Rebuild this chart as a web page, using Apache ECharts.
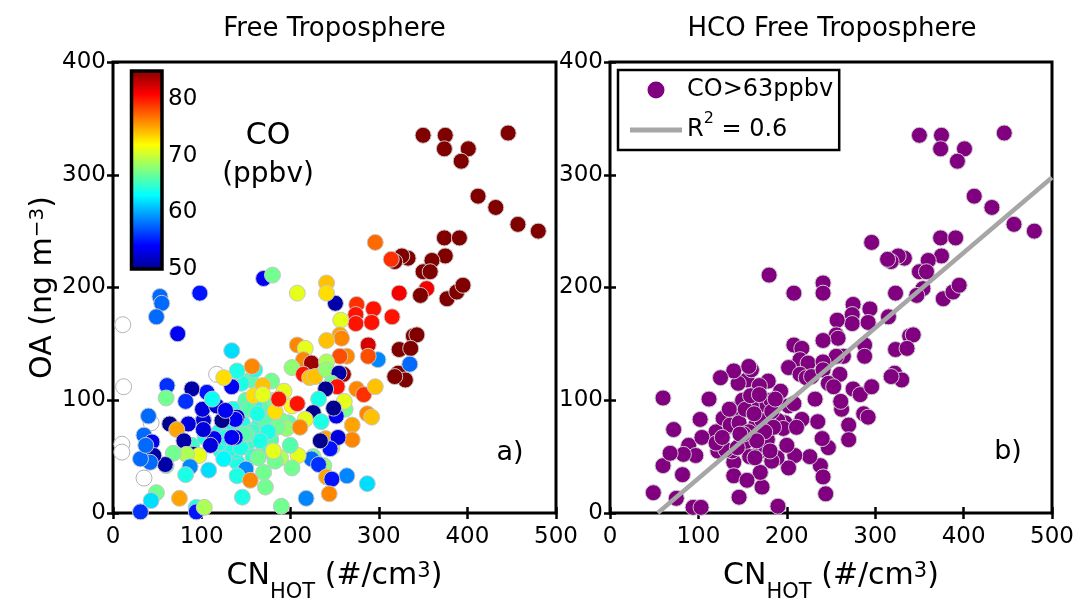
<!DOCTYPE html>
<html>
<head>
<meta charset="utf-8">
<script src="https://cdn.jsdelivr.net/npm/echarts@6/dist/echarts.min.js"></script>
<style>
html,body{margin:0;padding:0;background:#fff;}
#chart{width:1080px;height:608px;}
</style>
</head>
<body>
<div id="chart"></div>
<script>
// ---- Data ----
// CN_HOT (#/cm3), OA (ng m-3), CO (ppbv)
const cnHot = [247,238,226,170,140,198,130,142,152,165,168,175,182,190,196,138,158,120,
60,102,89,128,136,262,122,104,146,157,131,120,160,172,178,150,135,155,125,153,163,185,175,166,151,144,147,127,145,140,160,134,
350,375,446,374,401,393,412,432,457,480,374,391,375,360,350,358,333,326,318,314,296,323,354,347,377,388,395,315,294,339,343,323,336,322,330,318,335,299,
275,274,274,292,288,288,264,256,257,256,258,251,241,241,208,170,180,98,73,53,55,49,
241,208,217,215,224,241,202,215,222,228,241,260,255,247,253,240,232,275,283,296,261,252,249,226,235,217,211,270,287,292,270,240,254,245,234,
224,232,209,202,189,183,200,264,287,241,247,244,218,190,172,170,164,181,193,183,202,208,187,179,169,159,169,157,
134,125,138,140,138,123,134,114,110,108,102,102,101,106,117,127,112,89,82,61,60,85,64,72,80,91,97,83,68,59,87,82,75,49,43,31,94,94,103,
40,35,44,46,42,31,37,150,140,146,155];
const oaVal = [58,42,50,55,45,80,75,92,62,78,95,60,100,82,75,55,50,72,
42,83,60,84,78,92,55,67,80,72,56,62,95,82,65,100,92,118,48,92,88,76,72,64,70,58,70,67,115,126,127,144,
335,335,337,323,323,312,281,271,256,250,244,244,228,224,214,214,226,228,223,225,240,195,199,193,190,196,202,174,181,157,158,145,146,124,118,121,132,136,
185,176,168,169,149,139,139,139,171,158,155,186,204,195,195,208,211,195,159,192,186,174,
153,149,146,136,133,134,129,123,120,121,127,123,124,115,112,110,101,110,105,112,99,86,93,89,81,83,76,78,88,85,65,66,67,57,64,
48,43,51,40,49,46,60,33,26,32,30,17,13,6,23,36,49,55,108,90,95,97,101,117,113,104,105,130,
112,120,67,85,83,82,67,66,60,38,82,74,92,107,95,91,101,110,99,113,102,79,79,74,64,52,51,52,53,43,41,34,13,18,11,1,5,1,5,
86,69,63,51,45,48,60,39,33,14,29];
const coVal = [70,68,67,66,64,66,64,64,65,65,66,65,67,67,68,64,65,64,
66,65,65,64,64,67,64,64,64,65,64,64,64,66,66,66,64,66,63,66,64,67,64,64,66,64,66,64,64,64,64,62,
85,85,85,85,85,85,85,85,85,85,85,85,85,85,85,85,85,85,85,79,77,81,81,85,85,85,85,80,80,85,85,85,85,85,85,85,58,59,
79,80,80,80,82,78,76,78,71,75,76,51,74,73,71,54,67,55,54,58,58,58,
74,76,71,76,84,69,68,80,74,74,68,84,51,67,80,50,64,76,79,74,71,54,50,50,64,71,76,75,76,74,76,75,53,55,50,
58,56,71,67,69,67,66,59,62,75,55,76,59,67,67,67,67,71,71,73,72,80,80,67,74,73,71,76,
54,73,54,53,54,50,54,54,53,62,53,53,53,55,53,54,63.5,51,56,56,67,53,50,75,51,50,71,69,67,51,59,64,75,67,62,56,64,55,69,
58,58,54,51,58,58,58,59,64,64,76];
// points without a CO value (drawn hollow)
const hollowX = [11,12,10,10,35,43,117];
const hollowY = [167,112,61,54,31,80,123];

const coThreshold = 63;
const fitLine = [[54,0],[500,297.5]];
const xTicks = {min:0, max:500, interval:100};
const yTicks = {min:0, max:400, interval:100};
const coRange = {min:50, max:85, interval:10};
const jet = ['#00008F','#0000FF','#0080FF','#00FFFF','#80FF80','#FFFF00','#FF8000','#FF0000','#800000'];

// ---- Build series data ----
const allPts = cnHot.map((x,i)=>[x, oaVal[i], coVal[i]]);
const hollowPts = hollowX.map((x,i)=>[x, hollowY[i]]);
const hcoPts = allPts.filter(p => p[2] > coThreshold).map(p => [p[0], p[1]]);

const FONT = 'DejaVu Sans';
const chart = echarts.init(document.getElementById('chart'), null, {renderer:'canvas'});

function xAx(grid, pos, labels, name){
  return {
    type:'value', gridIndex:grid, position:pos, min:xTicks.min, max:xTicks.max, interval:xTicks.interval,
    axisLine:{show:false}, splitLine:{show:false},
    axisTick:{show:true, inside:true, length:6, lineStyle:{color:'#000', width:2.5}},
    axisLabel:{show:labels, fontSize:23, fontFamily:FONT, color:'#000', margin:13},
    name: name || '', nameLocation:'middle', nameGap:48,
    nameTextStyle:{fontFamily:FONT, color:'#000', rich:{
      m:{fontSize:30, lineHeight:30, verticalAlign:'top', fontFamily:FONT, color:'#000'},
      sub:{fontSize:21, lineHeight:42, verticalAlign:'bottom', fontFamily:FONT, color:'#000'},
      sup:{fontSize:21, lineHeight:19, verticalAlign:'top', fontFamily:FONT, color:'#000'}
    }}
  };
}
function yAx(grid, pos, labels, name){
  return {
    type:'value', gridIndex:grid, position:pos, min:yTicks.min, max:yTicks.max, interval:yTicks.interval,
    axisLine:{show:false}, splitLine:{show:false},
    axisTick:{show:true, inside:true, length:6, lineStyle:{color:'#000', width:2.5}},
    axisLabel:{show:labels, fontSize:23, fontFamily:FONT, color:'#000', margin:7},
    name: name || '', nameLocation:'middle', nameGap:55, nameRotate:90,
    nameTextStyle:{fontFamily:FONT, color:'#000', rich:{
      m:{fontSize:30, lineHeight:30, verticalAlign:'top', fontFamily:FONT, color:'#000'},
      sup:{fontSize:20, lineHeight:16, verticalAlign:'top', fontFamily:FONT, color:'#000'}
    }}
  };
}
const xName = '{m|CN}{sub|HOT}{m| (#/cm}{sup|3}{m|)}';
const yName = '{m|OA (ng m}{sup|\u22123}{m|)}';

const gradient = new echarts.graphic.LinearGradient(0,1,0,0, jet.map((c,i)=>({offset:i/(jet.length-1), color:c})));

const option = {
  animation:false,
  backgroundColor:'#fff',
  textStyle:{fontFamily:FONT},
  grid:[
    {left:113, top:62, width:443, height:454, show:true, borderColor:'#000', borderWidth:3, backgroundColor:'rgba(0,0,0,0)'},
    {left:610, top:62, width:442, height:454, show:true, borderColor:'#000', borderWidth:3, backgroundColor:'rgba(0,0,0,0)'},
    {left:131.5, top:71, width:30.5, height:198, show:true, borderColor:'#000', borderWidth:3.5, backgroundColor:gradient}
  ],
  xAxis:[
    xAx(0,'bottom',true,xName), xAx(0,'top',false),
    xAx(1,'bottom',true,xName), xAx(1,'top',false),
    {type:'value', gridIndex:2, show:false, min:0, max:1}
  ],
  yAxis:[
    yAx(0,'left',true,yName), yAx(0,'right',false),
    yAx(1,'left',true), yAx(1,'right',false),
    {type:'value', gridIndex:2, position:'right', min:coRange.min, max:coRange.max, interval:coRange.interval,
     axisLine:{show:false}, axisTick:{show:false}, splitLine:{show:false},
     axisLabel:{fontSize:23, fontFamily:FONT, color:'#000', margin:6, showMaxLabel:false}}
  ],
  visualMap:{type:'continuous', show:false, seriesIndex:0, dimension:2, min:coRange.min, max:coRange.max, inRange:{color:jet}},
  legend:{
    show:true, orient:'vertical', left:618, top:70, selectedMode:false,
    backgroundColor:'#fff', borderColor:'#000', borderWidth:2.5, borderRadius:0,
    padding:[1,6,1,12], itemGap:2, itemWidth:52, itemHeight:17,
    textStyle:{fontFamily:FONT, fontSize:24, lineHeight:38, color:'#000',
      rich:{sup:{fontSize:16, lineHeight:16, verticalAlign:'top', fontFamily:FONT, color:'#000'}}},
    formatter: function(name){ return name === 'R2' ? 'R{sup|2} = 0.6' : name; },
    data:[{name:'CO>63ppbv', icon:'circle', itemStyle:{color:'#800080', borderWidth:0, opacity:1}},
          {name:'R2', icon:'path://M0,0L52,0L52,5L0,5Z', itemStyle:{color:'#a6a6a6', borderWidth:0, opacity:1}}]
  },
  series:[
    {type:'scatter', name:'CO', xAxisIndex:0, yAxisIndex:0, data:allPts, symbol:'circle', symbolSize:16,
     itemStyle:{borderColor:'#c8c8c8', borderWidth:1, opacity:1}, emphasis:{disabled:true}, z:2},
    {type:'scatter', name:'noCO', xAxisIndex:0, yAxisIndex:0, data:hollowPts, symbol:'circle', symbolSize:16,
     itemStyle:{color:'#ffffff', borderColor:'#b4b4b4', borderWidth:1, opacity:1}, emphasis:{disabled:true}, z:1},
    {type:'scatter', name:'CO>63ppbv', xAxisIndex:2, yAxisIndex:2, data:hcoPts, symbol:'circle', symbolSize:16,
     itemStyle:{color:'#800080', borderColor:'#cccccc', borderWidth:1, opacity:1}, emphasis:{disabled:true}, z:2},
    {type:'line', name:'R2', xAxisIndex:2, yAxisIndex:2, data:fitLine, symbol:'none', showSymbol:false,
     lineStyle:{color:'#a6a6a6', width:4.5}, itemStyle:{color:'#a6a6a6'}, emphasis:{disabled:true}, z:3}
  ],
  graphic:[
    {type:'text', x:334.5, y:29, style:{text:'Free Troposphere', fontSize:26, fontFamily:FONT, fill:'#000', align:'center', verticalAlign:'middle'}},
    {type:'text', x:832, y:29, style:{text:'HCO Free Troposphere', fontSize:26, fontFamily:FONT, fill:'#000', align:'center', verticalAlign:'middle'}},
    {type:'text', x:268, y:136, style:{text:'CO', fontSize:30, fontFamily:FONT, fill:'#000', align:'center', verticalAlign:'middle'}},
    {type:'text', x:268, y:175, style:{text:'(ppbv)', fontSize:28, fontFamily:FONT, fill:'#000', align:'center', verticalAlign:'middle'}},
    {type:'text', x:510, y:453, style:{text:'a)', fontSize:27, fontFamily:FONT, fill:'#000', align:'center', verticalAlign:'middle'}},
    {type:'text', x:1008, y:452, style:{text:'b)', fontSize:27, fontFamily:FONT, fill:'#000', align:'center', verticalAlign:'middle'}}
  ]
};
chart.setOption(option);
</script>
</body>
</html>
